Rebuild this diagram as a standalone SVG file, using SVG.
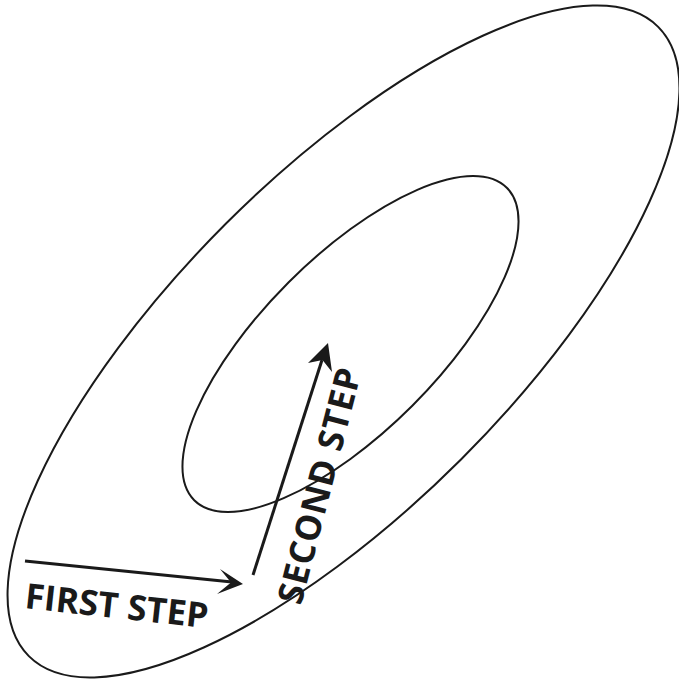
<svg xmlns="http://www.w3.org/2000/svg" width="679" height="681" viewBox="0 0 679 681">
<style>
.contour{fill:none;stroke:#1a1a1a;stroke-width:2}
.arrow{fill:none;stroke:#1a1a1a;stroke-width:3}
.head{fill:#1a1a1a;stroke:none}
.lbl{font-family:"Open Sans","Liberation Sans",sans-serif;font-weight:bold;font-size:35px;fill:#1a1a1a}
</style>
<rect width="679" height="681" fill="#fff"/>
<g id="outer-contour">
<ellipse class="contour" cx="343.5" cy="341.5" rx="445" ry="166.5" transform="rotate(-45 343.5 341.5)"/>
</g>
<g id="inner-contour">
<ellipse class="contour" cx="350.5" cy="344" rx="221" ry="87.4" transform="rotate(-45 350.5 344)"/>
</g>
<g id="connectors">
<g id="first-step-arrow">
<line class="arrow" x1="25" y1="561" x2="232" y2="582"/>
<polygon class="head" points="243,584 220,569 231,582.5 217,594"/>
</g>
<g id="second-step-arrow">
<line class="arrow" x1="253" y1="575" x2="322" y2="360"/>
<polygon class="head" points="328,343 332,372 322.5,360 308,363"/>
</g>
</g>
<g id="first-step-label">
<text class="lbl" x="24" y="608" transform="rotate(6.3 24 608)" textLength="184" lengthAdjust="spacing">FIRST STEP</text>
</g>
<g id="second-step-label">
<text class="lbl" x="301" y="606" transform="rotate(-75.5 301 606)" textLength="242" lengthAdjust="spacing">SECOND STEP</text>
</g>
</svg>
